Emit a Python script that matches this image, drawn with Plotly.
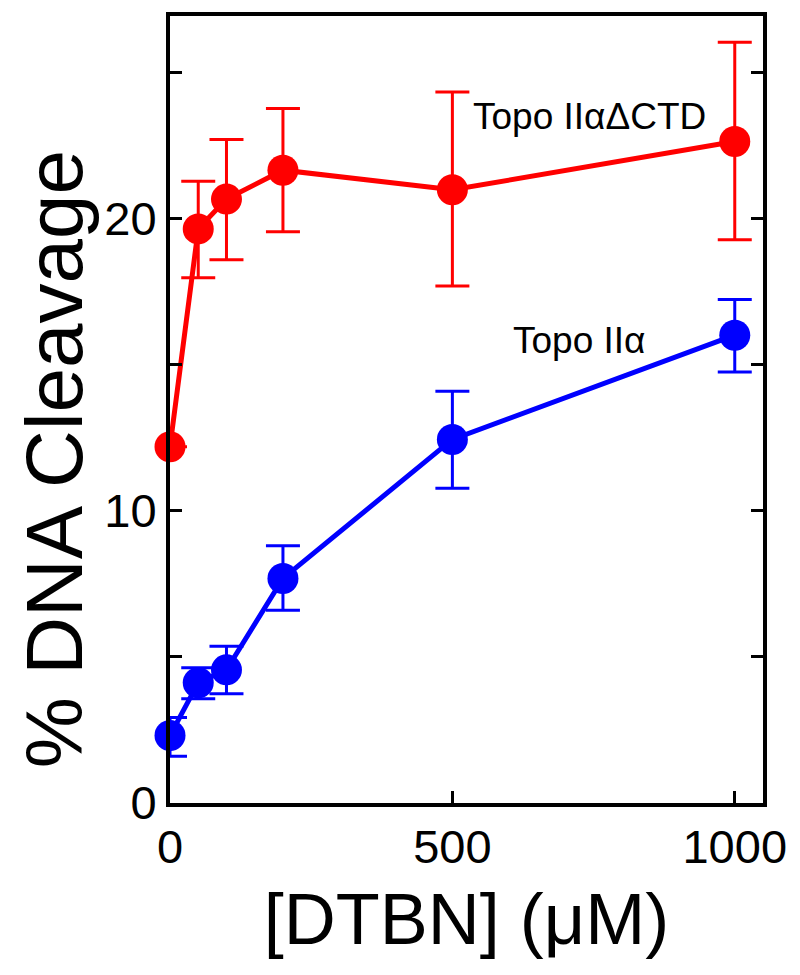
import plotly.graph_objects as go
import math

dtbn = [0, 50, 100, 200, 500, 1000]

ctd_mean = [12.2, 19.66, 20.68, 21.67, 21.0, 22.65]
ctd_upper = [float("nan"), 21.29, 22.72, 23.78, 24.35, 26.05]
ctd_lower = [float("nan"), 17.99, 18.6, 19.56, 17.7, 19.29]

wt_mean = [2.31, 4.12, 4.56, 7.69, 12.45, 16.02]
wt_upper = [2.93, 4.63, 5.37, 8.81, 14.1, 17.24]
wt_lower = [1.60, 3.57, 3.74, 6.60, 10.78, 14.76]

y_tickvals = [0, 5, 10, 15, 20, 25]
y_ticktext = ["0", "", "10", "", "20", ""]
x_tickvals = [0, 500, 1000]
x_ticktext = ["0", "500", "1000"]


def diff(a, b):
    return [(u - v) if not (math.isnan(u) or math.isnan(v)) else float("nan") for u, v in zip(a, b)]


RED = "#ff0000"
BLUE = "#0000ff"
FONT = "Liberation Sans, Arial, Helvetica, sans-serif"

fig = go.Figure()

fig.add_trace(go.Scatter(
    x=dtbn, y=ctd_mean, mode="lines+markers",
    line=dict(color=RED, width=5),
    marker=dict(color=RED, size=31),
    error_y=dict(type="data", symmetric=False,
                 array=diff(ctd_upper, ctd_mean),
                 arrayminus=diff(ctd_mean, ctd_lower),
                 color=RED, thickness=3, width=17),
    cliponaxis=False,
    showlegend=False,
))

fig.add_trace(go.Scatter(
    x=dtbn, y=wt_mean, mode="lines+markers",
    line=dict(color=BLUE, width=5),
    marker=dict(color=BLUE, size=31),
    error_y=dict(type="data", symmetric=False,
                 array=diff(wt_upper, wt_mean),
                 arrayminus=diff(wt_mean, wt_lower),
                 color=BLUE, thickness=3, width=17),
    cliponaxis=False,
    showlegend=False,
))

fig.add_annotation(x=742, y=23.5, text="Topo IIαΔCTD", showarrow=False,
                   font=dict(family=FONT, size=37, color="black"))
fig.add_annotation(x=724, y=15.85, text="Topo IIα", showarrow=False,
                   font=dict(family=FONT, size=37, color="black"))

# y-axis title placed as a rotated annotation (sits lower than plot centre in the reference)
fig.add_annotation(x=-0.195, y=0.4374, xref="paper", yref="paper",
                   xanchor="center", yanchor="middle", textangle=-90,
                   text="% DNA Cleavage", showarrow=False,
                   font=dict(family=FONT, size=80, color="black"))

fig.update_layout(
    width=800, height=975,
    margin=dict(l=162, r=45, t=4, b=180),
    paper_bgcolor="white", plot_bgcolor="white",
    font=dict(family=FONT, color="black"),
)

fig.update_xaxes(
    range=[0, 1050], tickvals=x_tickvals, ticktext=x_ticktext,
    showgrid=False, zeroline=False,
    showline=True, linecolor="black", linewidth=4, mirror=True,
    ticks="inside", ticklen=12, tickwidth=3, tickcolor="black",
    tickfont=dict(size=47, family=FONT),
    title=dict(text="[DTBN] (μM)", font=dict(size=72, family=FONT), standoff=22),
)
fig.update_yaxes(
    range=[0, 26.95], tickvals=y_tickvals, ticktext=y_ticktext,
    showgrid=False, zeroline=False,
    showline=True, linecolor="black", linewidth=4, mirror="allticks",
    ticks="inside", ticklen=12, tickwidth=3, tickcolor="black",
    tickfont=dict(size=47, family=FONT),
)

fig.write_html("out.html")
